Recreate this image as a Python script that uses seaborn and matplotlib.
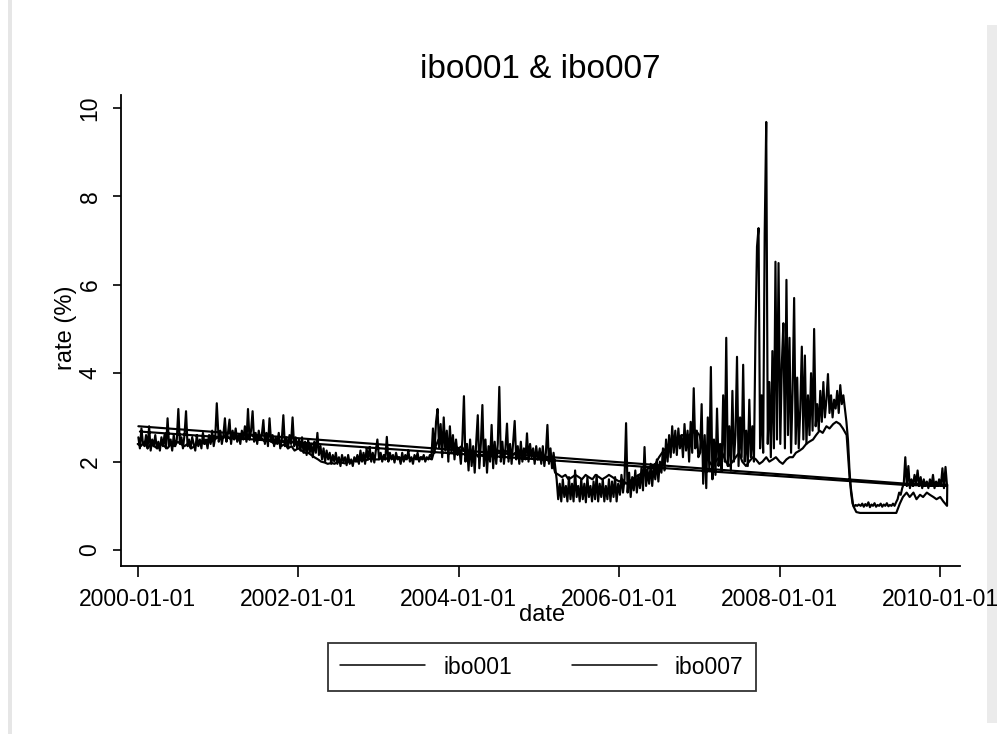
import pandas as pd
import numpy as np
import matplotlib.pyplot as plt
import matplotlib.patches as mpatches
from matplotlib.lines import Line2D
import seaborn as sns

# ── data ─────────────────────────────────────────────────────────────────────
# ibo001: weekly values, 52 per year from 2000 to 2009, then 5 weeks of 2010
weeks_per_year = [52] * 10 + [5]
ibo001 = [
    # 2000
    2.55, 2.30, 2.75, 2.40, 2.35, 2.60, 2.30, 2.80, 2.25, 2.50, 2.35, 2.60, 2.30,
    2.45, 2.25, 2.55, 2.35, 2.60, 2.30, 2.98, 2.35, 2.50, 2.25, 2.60, 2.35, 2.50,
    3.19, 2.40, 2.55, 2.30, 2.60, 3.14, 2.35, 2.50, 2.30, 2.55, 2.40, 2.25, 2.60,
    2.35, 2.50, 2.30, 2.65, 2.40, 2.50, 2.30, 2.60, 2.40, 2.70, 2.35, 2.55, 3.32,
    # 2001
    2.45, 2.70, 2.40, 2.60, 2.98, 2.45, 2.65, 2.95, 2.40, 2.70, 2.50, 2.75, 2.45,
    2.60, 2.40, 2.70, 2.50, 2.80, 2.45, 3.19, 2.50, 2.70, 3.14, 2.45, 2.65, 2.40,
    2.70, 2.50, 2.60, 2.94, 2.40, 2.65, 2.35, 2.98, 2.45, 2.60, 2.35, 2.55, 2.40,
    2.65, 2.30, 2.50, 3.05, 2.35, 2.55, 2.30, 2.60, 2.40, 3.00, 2.35, 2.55, 2.30,
    # 2002
    2.50, 2.25, 2.55, 2.20, 2.45, 2.15, 2.50, 2.20, 2.40, 2.10, 2.45, 2.20, 2.65,
    2.15, 2.35, 2.05, 2.30, 2.00, 2.25, 2.05, 2.20, 1.95, 2.15, 2.00, 2.20, 1.95,
    2.10, 1.90, 2.15, 2.00, 2.10, 1.92, 2.15, 1.95, 2.05, 1.90, 2.10, 2.00, 2.15,
    1.95, 2.25, 2.00, 2.20, 1.95, 2.30, 2.05, 2.33, 2.00, 2.20, 1.98, 2.25, 2.50,
    # 2003
    2.05, 2.20, 2.00, 2.15, 2.05, 2.56, 2.00, 2.20, 2.05, 2.15, 1.98, 2.20, 2.05,
    2.10, 1.95, 2.20, 2.00, 2.15, 2.05, 2.25, 2.00, 2.10, 1.95, 2.15, 2.05, 2.20,
    2.00, 2.10, 2.05, 2.15, 2.00, 2.10, 2.05, 2.15, 2.10, 2.75, 2.20, 2.90, 3.19,
    2.30, 2.85, 2.10, 3.00, 2.25, 2.70, 2.00, 2.80, 2.20, 2.60, 2.05, 2.50, 2.15,
    # 2004
    2.30, 1.95, 2.50, 3.48, 2.00, 2.40, 1.80, 2.50, 1.90, 2.35, 1.75, 2.45, 3.05,
    1.85, 2.40, 3.28, 1.90, 2.50, 1.75, 2.35, 2.00, 2.83, 1.85, 2.45, 1.95, 2.40,
    3.69, 2.00, 2.45, 1.95, 2.30, 2.86, 2.00, 2.40, 1.95, 2.45, 2.92, 2.05, 2.35,
    1.95, 2.45, 2.00, 2.30, 2.05, 2.64, 2.00, 2.40, 2.10, 2.30, 1.95, 2.35, 2.05,
    # 2005
    2.30, 1.95, 2.35, 1.90, 2.20, 2.83, 1.95, 2.30, 1.85, 2.20, 1.90, 1.60, 1.15,
    1.50, 1.10, 1.60, 1.20, 1.45, 1.10, 1.65, 1.15, 1.50, 1.10, 1.80, 1.20, 1.45,
    1.10, 1.60, 1.15, 1.50, 1.08, 1.65, 1.20, 1.45, 1.10, 1.55, 1.15, 1.70, 1.10,
    1.50, 1.20, 1.60, 1.10, 1.45, 1.15, 1.60, 1.10, 1.55, 1.20, 1.65, 1.10, 1.50,
    # 2006
    1.25, 1.70, 1.30, 1.60, 2.87, 1.30, 1.75, 1.20, 1.65, 1.35, 1.80, 1.30, 1.70,
    1.40, 1.85, 1.35, 2.33, 1.45, 1.80, 1.50, 1.95, 1.45, 1.90, 1.60, 2.05, 1.55,
    2.00, 1.75, 2.30, 1.80, 2.50, 2.00, 2.60, 2.10, 2.80, 2.20, 2.70, 2.15, 2.75,
    2.30, 2.60, 2.10, 2.85, 2.25, 2.70, 2.00, 2.90, 2.20, 3.66, 2.30, 2.70, 2.10,
    # 2007
    2.20, 3.30, 1.50, 2.60, 1.40, 3.00, 1.80, 4.14, 1.60, 2.50, 1.70, 3.20, 1.90,
    2.40, 1.80, 3.50, 2.00, 4.80, 1.90, 2.80, 1.80, 3.60, 2.00, 2.60, 4.37, 1.90,
    3.00, 2.10, 4.19, 2.00, 2.70, 1.90, 3.40, 2.10, 2.80, 2.00, 4.90, 6.86, 7.28,
    2.30, 3.50, 2.20, 7.17, 9.68, 2.40, 3.80, 2.10, 4.50, 2.30, 6.52, 2.50, 6.49,
    # 2008
    2.40, 4.20, 5.13, 2.30, 6.11, 2.60, 4.80, 2.20, 3.60, 5.70, 2.40, 3.90, 2.30,
    3.20, 4.60, 2.50, 4.40, 2.40, 3.50, 2.60, 4.00, 2.70, 5.00, 2.80, 3.30, 2.70,
    3.60, 2.90, 3.80, 3.00, 3.40, 3.98, 3.10, 3.50, 3.00, 3.40, 3.20, 3.60, 3.10,
    3.73, 3.30, 3.50, 3.20, 2.90, 2.50, 1.80, 1.30, 1.05, 0.98, 1.02, 1.00, 1.03,
    # 2009
    1.00, 1.05, 0.98, 1.04, 1.00, 1.08, 0.97, 1.03, 1.00, 1.06, 0.98, 1.02, 1.00,
    1.05, 0.98, 1.03, 1.00, 1.06, 0.99, 1.02, 1.00, 1.05, 1.00, 1.08, 1.15, 1.30,
    1.25, 1.40, 1.50, 2.10, 1.45, 1.90, 1.40, 1.60, 1.45, 1.70, 1.50, 1.80, 1.45,
    1.65, 1.40, 1.60, 1.45, 1.55, 1.40, 1.60, 1.45, 1.70, 1.40, 1.55, 1.45, 1.60,
    # 2010
    1.45, 1.85, 1.40, 1.88, 1.45,
]
# the series wraps back to its start (straight line across the chart)
ibo001_wrap_dates = ['2009-08-01', '2000-01-11']
ibo001_wrap = [1.47, 2.68]

# ibo007: semi-monthly values (1st and 15th), 2000-01 .. 2010-02
ibo007 = [
    # 2000
    2.40, 2.35, 2.45, 2.30, 2.40, 2.35, 2.30, 2.40, 2.35, 2.30, 2.40, 2.35,
    2.45, 2.40, 2.35, 2.40, 2.30, 2.35, 2.40, 2.45, 2.40, 2.50, 2.45, 2.50,
    # 2001
    2.55, 2.50, 2.60, 2.55, 2.50, 2.60, 2.55, 2.60, 2.65, 2.55, 2.60, 2.55,
    2.50, 2.55, 2.45, 2.50, 2.45, 2.40, 2.45, 2.35, 2.40, 2.30, 2.35, 2.25,
    # 2002
    2.30, 2.25, 2.20, 2.20, 2.15, 2.10, 2.05, 2.00, 1.98, 1.95, 1.97, 1.95,
    2.00, 1.98, 1.96, 2.00, 1.98, 2.02, 2.00, 2.05, 2.02, 2.05, 2.08, 2.05,
    # 2003
    2.05, 2.08, 2.05, 2.10, 2.08, 2.05, 2.10, 2.08, 2.05, 2.10, 2.05, 2.08,
    2.05, 2.10, 2.05, 2.08, 2.05, 2.30, 2.50, 2.40, 2.55, 2.40, 2.50, 2.35,
    # 2004
    2.30, 2.35, 2.20, 2.25, 2.15, 2.20, 2.10, 2.15, 2.10, 2.20, 2.15, 2.20,
    2.25, 2.20, 2.25, 2.20, 2.15, 2.20, 2.20, 2.15, 2.20, 2.25, 2.20, 2.15,
    # 2005
    2.10, 2.05, 2.10, 2.00, 2.05, 1.75, 1.70, 1.65, 1.70, 1.60, 1.65, 1.70,
    1.65, 1.60, 1.70, 1.65, 1.60, 1.70, 1.65, 1.60, 1.65, 1.70, 1.65, 1.60,
    # 2006
    1.55, 1.60, 1.50, 1.55, 1.60, 1.65, 1.70, 1.75, 1.80, 1.85, 1.90, 1.95,
    2.10, 2.20, 2.30, 2.40, 2.45, 2.50, 2.55, 2.60, 2.55, 2.60, 2.65, 2.70,
    # 2007
    2.60, 2.30, 2.10, 2.00, 1.90, 2.00, 2.10, 2.20, 2.00, 1.90, 2.00, 2.10,
    2.20, 2.00, 1.90, 2.00, 2.10, 2.05, 1.95, 2.00, 2.10, 2.00, 2.05, 2.10,
    # 2008
    2.00, 1.95, 2.05, 2.10, 2.10, 2.20, 2.25, 2.30, 2.40, 2.45, 2.50, 2.60,
    2.70, 2.65, 2.80, 2.75, 2.85, 2.90, 2.85, 2.75, 2.60, 1.60, 1.00, 0.86,
    # 2009
    0.84, 0.84, 0.84, 0.84, 0.84, 0.84, 0.84, 0.84, 0.84, 0.84, 0.84, 0.84,
    1.05, 1.20, 1.30, 1.20, 1.30, 1.15, 1.25, 1.20, 1.30, 1.25, 1.20, 1.15,
    # 2010
    1.20, 1.10, 1.00,
]
ibo007_wrap_dates = ['2010-02-02', '2009-08-01', '2000-01-04']
ibo007_wrap = [1.48, 1.50, 2.80]

YEAR_TICKS = ['2000-01-01', '2002-01-01', '2004-01-01',
              '2006-01-01', '2008-01-01', '2010-01-01']

# ── assemble long table ──────────────────────────────────────────────────────
d001 = np.concatenate([
    pd.date_range(f'{y}-01-04', periods=n, freq='7D').values
    for y, n in zip(range(2000, 2011), weeks_per_year)
])
d001 = list(pd.to_datetime(d001)[:len(ibo001)]) + list(pd.to_datetime(ibo001_wrap_dates))
d007 = list(pd.date_range('2000-01-01', periods=len(ibo007), freq='SMS')) + \
    list(pd.to_datetime(ibo007_wrap_dates))

df = pd.concat([
    pd.DataFrame({'date': d001, 'rate': ibo001[:len(d001) - 2] + ibo001_wrap,
                  'series': 'ibo001'}),
    pd.DataFrame({'date': d007, 'rate': ibo007 + ibo007_wrap,
                  'series': 'ibo007'}),
], ignore_index=True)

# ── style ────────────────────────────────────────────────────────────────────
sns.set_theme(style='ticks')
plt.rcParams.update({
    'font.family': ['Liberation Sans', 'DejaVu Sans'],
    'axes.linewidth': 1.3,
    'text.color': 'black',
    'axes.labelcolor': 'black',
    'xtick.color': 'black',
    'ytick.color': 'black',
    'axes.edgecolor': 'black',
})

W, H = 1005, 734
fig = plt.figure(figsize=(W / 100, H / 100), dpi=100, facecolor='white')
ax = fig.add_axes([121 / W, 1 - 566 / H, (960 - 121) / W, (566 - 95) / H])

sns.lineplot(data=df, x='date', y='rate', hue='series',
             palette={'ibo001': 'black', 'ibo007': 'black'},
             sort=False, estimator=None, lw=1.55, legend=False, ax=ax)

sns.despine(ax=ax)
ax.set_xlim(pd.Timestamp('1999-10-17'), pd.Timestamp('2010-04-01'))
ax.set_ylim(-0.36, 10.29)
ax.set_xticks(pd.to_datetime(YEAR_TICKS))
ax.set_xticklabels(YEAR_TICKS)
ax.set_yticks([0, 2, 4, 6, 8, 10])
ax.set_xlabel('')
ax.set_ylabel('')
ax.tick_params(axis='x', length=8, width=1.2, labelsize=16.5, pad=8)
ax.tick_params(axis='y', length=6, width=1.2, labelsize=16.5, pad=8)
for lab in ax.get_yticklabels():
    lab.set_rotation(90)
    lab.set_va('center')

fig.text(540 / W, 1 - 70 / H, 'ibo001 & ibo007', ha='center', va='center', fontsize=24)
fig.text(66 / W, 1 - 328 / H, 'rate (%)', ha='center', va='center',
         rotation=90, fontsize=17)
fig.text(542 / W, 1 - 615 / H, 'date', ha='center', va='center', fontsize=17)

handles = [Line2D([], [], color='black', lw=1.1), Line2D([], [], color='black', lw=1.1)]
leg = fig.legend(handles, ['ibo001', 'ibo007'], loc='center', ncol=2,
                 bbox_to_anchor=(542 / W, 1 - 667 / H), fontsize=16.5,
                 frameon=True, fancybox=False, edgecolor='black',
                 handlelength=3.7, columnspacing=2.6, borderpad=0.55)
leg.get_frame().set_linewidth(1.3)

# faint frame strips of the original screenshot (behind everything)
fig.patches.append(mpatches.Rectangle((8 / W, 0), 4 / W, 1, transform=fig.transFigure,
                                      color='#e6e6e6', lw=0, zorder=-10))
fig.patches.append(mpatches.Rectangle((987 / W, 1 - 723 / H), 10 / W, 698 / H,
                                      transform=fig.transFigure, color='#ebebeb',
                                      lw=0, zorder=-10))

fig.savefig('out.png', dpi=100, facecolor='white')
